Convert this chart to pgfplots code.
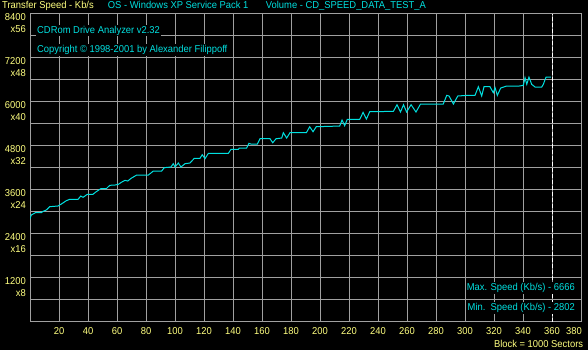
\documentclass[border=0pt]{standalone}
\usepackage{fontspec}
\setmainfont[FakeStretch=0.94]{Liberation Sans}
\usepackage{pgfplots}
\pgfplotsset{compat=1.18}
\definecolor{gridgray}{RGB}{160,160,160}
\definecolor{cdcyan}{RGB}{0,224,224}
\definecolor{cdyellow}{RGB}{255,255,128}
\newcommand{\cdfont}{\fontsize{10bp}{12.4bp}\selectfont}
\pgfplotstableread{
x y
0 2802
0.9 2904
3.7 2967
7.8 2967
9.0 3005
11.2 3040
13.6 3131
19.3 3150
21.6 3204
25.0 3294
27.4 3332
33.1 3332
35.0 3422
36.6 3386
39.5 3469
43.4 3469
45.7 3540
48.8 3622
52.6 3622
55.0 3714
58.6 3722
60.9 3741
63.7 3813
65.5 3850
67.4 3831
69.7 3904
73.6 3995
81.6 3995
83.4 4050
85.0 4104
90.8 4104
92.6 4195
97.2 4213
98.8 4304
100.0 4213
102.3 4322
104.1 4213
106.9 4304
110.3 4322
113.3 4450
117.2 4450
118.8 4549
120.7 4440
123.0 4587
136.8 4587
138.6 4695
143.7 4695
144.3 4731
149.4 4731
151.0 4859
152.4 4840
156.8 4840
158.6 4985
165.5 4985
167.4 4876
169.7 4985
173.6 5004
174.7 5149
177.0 5004
179.3 5149
190.6 5149
192.9 5312
195.2 5176
197.4 5312
213.6 5331
215.2 5495
217.0 5340
218.8 5513
227.4 5513
229.7 5704
232.0 5522
234.3 5722
250.6 5731
253.1 5913
255.5 5713
257.6 5913
259.7 5713
262.8 5913
266.2 5713
269.3 5931
285.0 5931
287.4 6168
289.0 6150
292.0 5931
295.0 6150
301.6 6168
306.9 6168
309.2 6404
311.5 6150
313.1 6404
317.2 6404
319.5 6240
320.7 6380
322.3 6168
324.6 6368
328.7 6422
337.4 6422
340.2 6440
341.4 6649
342.6 6468
344.1 6666
346.0 6468
348.3 6395
352.9 6395
354.0 6468
355.9 6666
359.3 6666
}\speeddata
\begin{document}
\begin{tikzpicture}[x=1bp,y=1bp]
\fill[black] (0,0) rectangle (588,350);
\useasboundingbox (0,0) rectangle (588,350);
\begin{axis}[
  at={(30bp,28.5bp)}, anchor=south west,
  scale only axis, width=551bp, height=308bp,
  xmin=0, xmax=380, ymin=0, ymax=8400,
  axis line style={gridgray, line width=1bp},
  grid=both,
  major grid style={gridgray, line width=1bp},
  minor grid style={gridgray, line width=1bp},
  xtick={20,40,60,80,100,120,140,160,180,200,220,240,260,280,300,320,340,360},
  extra x ticks={380},
  extra x tick style={grid=none, xticklabel style={xshift=-7bp}},
  ytick={1200,2400,3600,4800,6000,7200,8400},
  minor ytick={600,1800,3000,4200,5400,6600,7800},
  yticklabels={{1200\\x8},{2400\\x16},{3600\\x24},{4800\\x32},{6000\\x40},{7200\\x48},{8400\\x56}},
  major tick length=0pt, minor tick length=0pt,
  tick style={draw=none},
  /pgf/number format/assume math mode=true,
  xticklabel style={anchor=north, inner sep=0pt, yshift=-5.5bp, text=cdyellow, font=\cdfont},
  yticklabel style={anchor=north east, align=right, inner sep=0pt, xshift=-4bp, yshift=0.5bp, text=cdyellow, font=\cdfont},
]
\addplot[cdcyan, line width=1bp, mark=none] table[x=x, y=y] {\speeddata};
\draw[white, line width=1bp, dash pattern=on 4bp off 2bp] (axis cs:360,0) -- (axis cs:360,8400);
\end{axis}
\node[anchor=base west, inner sep=0pt, text=cdyellow, font=\cdfont] at (2,341.5) {Transfer Speed - Kb/s};
\node[anchor=base west, inner sep=0pt, text=cdcyan, font=\cdfont] at (107.7,341.5) {OS - Windows XP Service Pack 1};
\node[anchor=base west, inner sep=0pt, text=cdcyan, font=\cdfont] at (265.7,341.5) {Volume - CD\_SPEED\_DATA\_TEST\_A};
\node[anchor=base west, inner sep=1bp, fill=black, text=cdcyan, font=\cdfont] at (36,317) {CDRom Drive Analyzer v2.32};
\node[anchor=base west, inner sep=1bp, fill=black, text=cdcyan, font=\cdfont] at (36,297.5) {Copyright \textcopyright\ 1998-2001 by Alexander Filippoff};
\node[anchor=base east, inner sep=1bp, fill=black, text=cdcyan, font=\cdfont] at (576,59.5) {Max. Speed (Kb/s) - 6666};
\node[anchor=base east, inner sep=1bp, fill=black, text=cdcyan, font=\cdfont] at (576,39.5) {Min.\ \ Speed (Kb/s) - 2802};
\node[anchor=base east, inner sep=0pt, text=cdyellow, font=\cdfont] at (583.3,2.7) {Block = 1000 Sectors};
\end{tikzpicture}
\end{document}
